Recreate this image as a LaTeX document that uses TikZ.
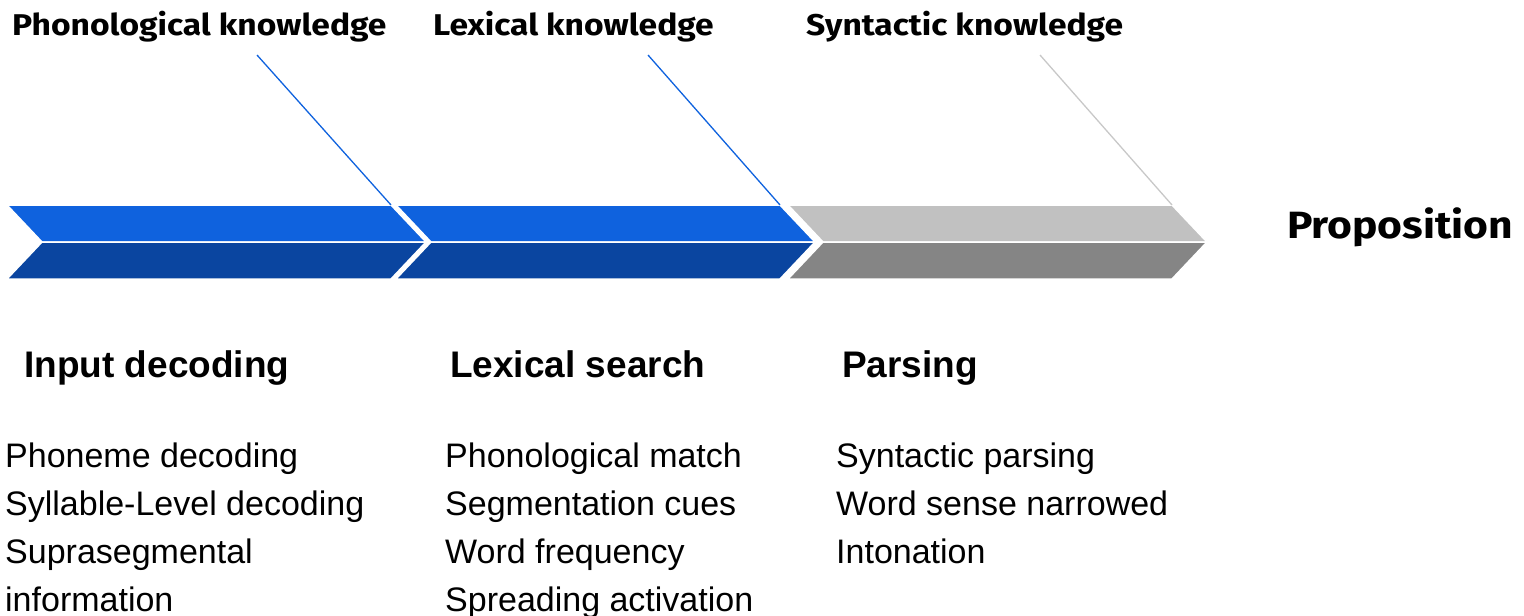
\documentclass[tikz,border=0pt]{standalone}
\usepackage{fontspec}
\setmainfont{Liberation Sans}
\newfontfamily\headfont{Fira Sans}[FakeStretch=1.12]
\definecolor{chevblue}{HTML}{0F62DE}
\definecolor{chevdark}{HTML}{0A45A0}
\definecolor{chevgrey}{HTML}{C1C1C1}
\definecolor{chevdgrey}{HTML}{858585}
\definecolor{linkgrey}{HTML}{C8C8C8}
\begin{document}
\begin{tikzpicture}[x=1pt,y=-1pt,
    know/.style={anchor=base west,inner sep=0pt,font=\headfont\bfseries\fontsize{30}{35}\selectfont},
    stage/.style={anchor=base west,inner sep=0pt,font=\bfseries\fontsize{37}{44}\selectfont},
    item/.style={anchor=base west,inner sep=0pt,font=\fontsize{34}{48}\selectfont},
    half/.style={draw=white,line width=1.5pt,line join=miter}]
    \useasboundingbox (0,0) rectangle (1524,616);
    % chevrons
    \foreach \x/\up/\dn [count=\i] in {7/chevblue/chevdark,396/chevblue/chevdark,788/chevgrey/chevdgrey}{
      \fill[half,fill=\up] (\x,205) -- ++(384,0) -- ++(35,37) -- (\x+35,242) -- cycle;
      \fill[half,fill=\dn] (\x+35,242) -- (\x+419,242) -- (\x+384,279) -- (\x,279) -- cycle;
      \coordinate (c\i) at (\x+384,205);
    }
    % knowledge labels
    \node[know] (phon) at (12,35) {Phonological knowledge};
    \node[know] (lex) at (433,35) {Lexical knowledge};
    \node[know] (syn) at (806,35) {Syntactic knowledge};
    \coordinate (k1) at (257,55);
    \coordinate (k2) at (648,55);
    \coordinate (k3) at (1040,55);
    \draw[chevblue,line width=1.3pt] (k1) -- (c1);
    \draw[chevblue,line width=1.3pt] (k2) -- (c2);
    \draw[linkgrey,line width=1.3pt] (k3) -- (c3);
    \node[anchor=base west,inner sep=0pt,font=\headfont\bfseries\fontsize{38}{44}\selectfont] (prop) at (1287,238) {Proposition};
    % stages
    \node[stage] (inp) at (24,377) {Input decoding};
    \node[stage] (search) at (450,377) {Lexical search};
    \node[stage] (pars) at (842,377) {Parsing};
    \foreach \t [count=\i] in {Phoneme decoding,Syllable-Level decoding,Suprasegmental,information}
      \node[item] (a\i) at (5,467+48*\i-48) {\t};
    \foreach \t [count=\i] in {Phonological match,Segmentation cues,Word frequency,Spreading activation}
      \node[item] (b\i) at (445,467+48*\i-48) {\t};
    \foreach \t [count=\i] in {Syntactic parsing,Word sense narrowed,Intonation}
      \node[item] (p\i) at (836,467+48*\i-48) {\t};
\end{tikzpicture}
\end{document}
